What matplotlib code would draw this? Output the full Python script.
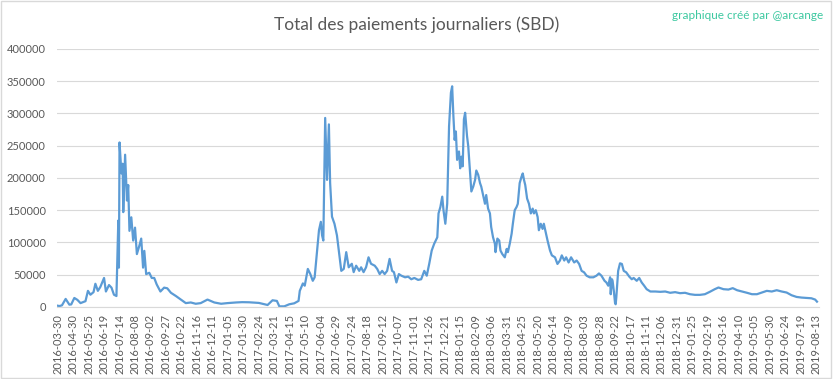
import numpy as np
import pandas as pd
import matplotlib
matplotlib.use("Agg")
import matplotlib.pyplot as plt
from matplotlib.patches import Rectangle

plt.rcParams['font.family'] = ['Lato', 'DejaVu Sans']

# daily payouts (SBD)
days_2016 = ["2016-03-30", "2016-04-08", "2016-04-12", "2016-04-18", "2016-04-24", "2016-04-27",
             "2016-05-02", "2016-05-07", "2016-05-12", "2016-05-20", "2016-05-24", "2016-05-28",
             "2016-06-02", "2016-06-05", "2016-06-09", "2016-06-13", "2016-06-19", "2016-06-22",
             "2016-06-27", "2016-07-01", "2016-07-05", "2016-07-09", "2016-07-12", "2016-07-13",
             "2016-07-14", "2016-07-17", "2016-07-19", "2016-07-20", "2016-07-23", "2016-07-26",
             "2016-07-28", "2016-07-30", "2016-08-02", "2016-08-05", "2016-08-08", "2016-08-11",
             "2016-08-15", "2016-08-18", "2016-08-21", "2016-08-23", "2016-08-26", "2016-08-31",
             "2016-09-04", "2016-09-08", "2016-09-12", "2016-09-18", "2016-09-24", "2016-09-29",
             "2016-10-05", "2016-10-13", "2016-10-21", "2016-10-29", "2016-11-06", "2016-11-14",
             "2016-11-22", "2016-12-03", "2016-12-14", "2016-12-25"]
sbd_2016 = [2000, 1500, 2500, 12500, 3600, 4000,
            14000, 11000, 6000, 9000, 25000, 19000,
            23000, 36000, 25000, 31000, 45000, 24000,
            34000, 30000, 19000, 17000, 134000, 61000,
            255000, 207000, 222000, 147000, 236000, 165000,
            189000, 118000, 139000, 103000, 123000, 82000,
            95000, 106000, 61000, 87000, 51000, 53000,
            45000, 45000, 35000, 24000, 30000, 29000,
            22000, 17000, 11500, 6000, 7000, 5000,
            6000, 11500, 7000, 5000]

days_2017 = ["2017-01-04", "2017-01-18", "2017-01-28", "2017-02-08", "2017-02-24", "2017-03-10",
             "2017-03-18", "2017-03-25", "2017-03-29", "2017-04-06", "2017-04-14", "2017-04-22",
             "2017-04-29", "2017-05-01", "2017-05-06", "2017-05-09", "2017-05-14", "2017-05-18",
             "2017-05-22", "2017-05-25", "2017-05-28", "2017-06-01", "2017-06-04", "2017-06-06",
             "2017-06-08", "2017-06-11", "2017-06-14", "2017-06-17", "2017-06-19", "2017-06-22",
             "2017-06-26", "2017-06-30", "2017-07-03", "2017-07-07", "2017-07-11", "2017-07-15",
             "2017-07-19", "2017-07-24", "2017-07-27", "2017-07-31", "2017-08-05", "2017-08-08",
             "2017-08-12", "2017-08-16", "2017-08-20", "2017-08-24", "2017-08-30", "2017-09-03",
             "2017-09-07", "2017-09-11", "2017-09-15", "2017-09-19", "2017-09-23", "2017-09-27",
             "2017-09-30", "2017-10-04", "2017-10-08", "2017-10-12", "2017-10-18", "2017-10-23",
             "2017-10-28", "2017-11-02", "2017-11-08", "2017-11-13", "2017-11-18", "2017-11-22",
             "2017-11-26", "2017-11-30", "2017-12-04", "2017-12-09", "2017-12-11", "2017-12-14",
             "2017-12-17", "2017-12-19", "2017-12-22", "2017-12-25", "2017-12-28", "2017-12-31"]
sbd_2017 = [6000, 7000, 7500, 7300, 6300, 3100,
            10400, 9400, 1000, 1000, 4200, 5700,
            9400, 25000, 36500, 33000, 59000, 51000,
            40600, 46000, 77000, 119000, 132000, 111000,
            103000, 293000, 197000, 283000, 192000, 140000,
            129000, 111000, 87500, 56000, 59000, 85000,
            61500, 67000, 54000, 64000, 56000, 61500,
            54000, 61500, 77000, 67000, 64000, 59000,
            51000, 56000, 51000, 56000, 74500, 56000,
            54000, 38000, 51000, 48500, 46000, 47000,
            43000, 45000, 42000, 43000, 56000, 48500,
            67000, 87500, 98000, 108000, 145000, 155000,
            171000, 150000, 129000, 160000, 280000, 332000]

days_2018 = ["2018-01-02", "2018-01-04", "2018-01-06", "2018-01-08", "2018-01-10", "2018-01-13",
             "2018-01-15", "2018-01-17", "2018-01-19", "2018-01-21", "2018-01-23", "2018-01-26",
             "2018-01-28", "2018-01-31", "2018-02-02", "2018-02-05", "2018-02-08", "2018-02-10",
             "2018-02-13", "2018-02-16", "2018-02-18", "2018-02-21", "2018-02-24", "2018-02-26",
             "2018-03-01", "2018-03-04", "2018-03-06", "2018-03-09", "2018-03-12", "2018-03-13",
             "2018-03-16", "2018-03-19", "2018-03-21", "2018-03-24", "2018-03-28", "2018-03-31",
             "2018-04-02", "2018-04-05", "2018-04-08", "2018-04-10", "2018-04-13", "2018-04-16",
             "2018-04-18", "2018-04-21", "2018-04-24", "2018-04-26", "2018-04-28", "2018-04-30",
             "2018-05-03", "2018-05-06", "2018-05-09", "2018-05-12", "2018-05-14", "2018-05-17",
             "2018-05-20", "2018-05-22", "2018-05-25", "2018-05-28", "2018-05-30", "2018-06-02",
             "2018-06-05", "2018-06-09", "2018-06-12", "2018-06-17", "2018-06-21", "2018-06-25",
             "2018-06-28", "2018-07-02", "2018-07-05", "2018-07-09", "2018-07-13", "2018-07-18",
             "2018-07-22", "2018-07-26", "2018-07-30", "2018-08-03", "2018-08-07", "2018-08-12",
             "2018-08-18", "2018-08-23", "2018-08-27", "2018-08-31", "2018-09-05", "2018-09-08",
             "2018-09-11", "2018-09-14", "2018-09-15", "2018-09-17", "2018-09-18", "2018-09-20",
             "2018-09-22", "2018-09-23", "2018-09-24", "2018-09-27", "2018-09-30", "2018-10-03",
             "2018-10-06", "2018-10-10", "2018-10-15", "2018-10-19", "2018-10-22", "2018-10-27",
             "2018-10-31", "2018-11-04", "2018-11-08", "2018-11-12", "2018-11-18", "2018-11-26",
             "2018-12-04", "2018-12-12", "2018-12-20", "2018-12-28"]
sbd_2018 = [342000, 296000, 259000, 272000, 228000, 241000,
            215000, 233000, 218000, 291000, 301000, 265000,
            249000, 207000, 179000, 186500, 197000, 211500,
            205000, 192000, 186500, 173500, 160000, 173500,
            152500, 145000, 124000, 108000, 98000, 85000,
            106000, 103000, 87500, 82000, 77000, 90000,
            85000, 98000, 113500, 129000, 150000, 155000,
            160000, 192000, 202000, 207000, 197000, 189000,
            168000, 160000, 145000, 152500, 145000, 150000,
            139500, 119000, 129000, 121000, 129000, 116000,
            103000, 87500, 80000, 77000, 66700, 72000,
            80000, 72000, 77000, 69000, 77000, 69000,
            72000, 66700, 56000, 53700, 48500, 46000,
            46000, 48500, 52000, 48500, 40600, 38000,
            33000, 46000, 19800, 43000, 40600, 25000,
            6000, 4200, 14600, 56000, 67700, 66700,
            56000, 53700, 47000, 43000, 45000, 40600,
            45000, 38000, 33000, 27600, 24000, 24000,
            23500, 24000, 22000, 23000]

days_2019 = ["2019-01-05", "2019-01-13", "2019-01-21", "2019-01-29", "2019-02-06", "2019-02-14",
             "2019-02-22", "2019-03-02", "2019-03-08", "2019-03-16", "2019-03-24", "2019-03-31",
             "2019-04-07", "2019-04-15", "2019-04-23", "2019-05-01", "2019-05-09", "2019-05-17",
             "2019-05-25", "2019-06-02", "2019-06-10", "2019-06-18", "2019-06-26", "2019-07-04",
             "2019-07-12", "2019-07-20", "2019-07-28", "2019-08-05", "2019-08-11", "2019-08-14"]
sbd_2019 = [21400, 22000, 19800, 18800, 18800, 19800,
            23500, 27600, 30200, 27600, 27000, 29200,
            26000, 24000, 22000, 19800, 19800, 22400,
            25000, 24000, 26000, 24000, 22400, 18200,
            15600, 14600, 14000, 13500, 11500, 8300]

days = pd.to_datetime(days_2016 + days_2017 + days_2018 + days_2019)
sbd = np.array(sbd_2016 + sbd_2017 + sbd_2018 + sbd_2019)

# the source sheet is a category axis, a few days of april 2016 are missing
all_days = pd.date_range("2016-03-30", "2019-08-16")
gap = pd.date_range("2016-03-31", "2016-04-05")
cat_days = all_days.difference(gap)
pos = cat_days.get_indexer(days)

fig = plt.figure(figsize=(8.33, 3.79), dpi=100)
fig.patches.append(Rectangle((0.001, 0.002), 0.997, 0.995, transform=fig.transFigure,
                             fill=False, edgecolor="#d9d9d9", linewidth=1))
ax = fig.add_axes([0.0684, 0.19, 0.9146, 0.681])

ax.plot(pos, sbd, color="#5b9bd5", linewidth=1.6)

ax.set_ylim(0, 400000)
ax.set_yticks(np.arange(0, 400001, 50000))
ax.set_xlim(-1, len(cat_days))
ticks = np.arange(0, len(cat_days), 25)
ax.set_xticks(ticks)
ax.set_xticklabels([cat_days[i].strftime("%Y-%m-%d") for i in ticks], rotation=90)

ax.grid(axis="y", color="#d9d9d9", linewidth=0.8)
ax.set_axisbelow(True)
for s in ["top", "right", "left"]:
    ax.spines[s].set_visible(False)
ax.spines["bottom"].set_color("#d9d9d9")
ax.tick_params(axis="both", length=0, colors="#595959", labelsize=8)
ax.tick_params(axis="x", pad=5)
ax.tick_params(axis="y", pad=8)

fig.text(0.5, 0.934, "Total des paiements journaliers (SBD)", ha="center", va="center",
         fontsize=12.5, color="#595959")
fig.text(0.988, 0.96, "graphique créé par @arcange", ha="right", va="center",
         fontsize=8.5, color="#3cc8a0")

fig.savefig("out.png", dpi=100)
